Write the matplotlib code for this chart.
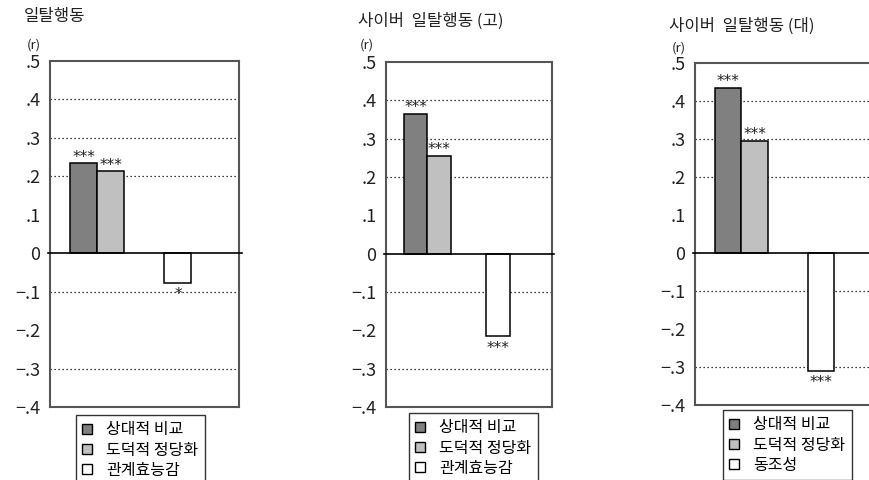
import matplotlib
matplotlib.use("Agg")
import matplotlib.pyplot as plt
from matplotlib.patches import Patch

plt.rcParams['font.family'] = ['Noto Sans CJK KR', 'DejaVu Sans']

# ---- data ----
titles = ['일탈행동', '사이버  일탈행동 (고)', '사이버  일탈행동 (대)']
labels_1 = ['상대적 비교', '도덕적 정당화', '관계효능감']
labels_2 = ['상대적 비교', '도덕적 정당화', '관계효능감']
labels_3 = ['상대적 비교', '도덕적 정당화', '동조성']
values_1 = [0.234, 0.213, -0.078]
values_2 = [0.365, 0.256, -0.216]
values_3 = [0.434, 0.295, -0.310]
sig_1 = ['***', '***', '*']
sig_2 = ['***', '***', '***']
sig_3 = ['***', '***', '***']
yticks = [0.5, 0.4, 0.3, 0.2, 0.1, 0.0, -0.1, -0.2, -0.3, -0.4]
ytick_labels = ['.5', '.4', '.3', '.2', '.1', '0', '−.1', '−.2', '−.3', '−.4']
grid_levels = [0.4, 0.3, 0.2, -0.1, -0.3]

bar_colors = ['#808080', '#c0c0c0', '#ffffff']
W, H = 870, 480

fig = plt.figure(figsize=(W / 100, H / 100), dpi=100)


def rect(x0, y0, x1, y1):
    """Pixel box (top-left origin) -> figure fraction rect."""
    return [x0 / W, 1 - y1 / H, (x1 - x0) / W, (y1 - y0) / H]


panels = [
    dict(box=(50, 61, 239, 407), labels=labels_1, values=values_1, sig=sig_1,
         title_xy=(24, 17), r_xy=(27, 45), legend_xy=(76, 415)),
    dict(box=(386, 62, 552, 407), labels=labels_2, values=values_2, sig=sig_2,
         title_xy=(358, 21), r_xy=(360, 45), legend_xy=(409, 413)),
    dict(box=(695, 63, 881, 405), labels=labels_3, values=values_3, sig=sig_3,
         title_xy=(669, 26), r_xy=(672, 48), legend_xy=(723, 410)),
]

positions = [0, 1, 3.5]

for title, p in zip(titles, panels):
    ax = fig.add_axes(rect(*p['box']))
    ax.set_xlim(-1.25, 5.77)
    ax.set_ylim(-0.4, 0.5)

    for lv in grid_levels:
        ax.axhline(lv, color='black', lw=0.9, ls=(0, (1, 2.2)), zorder=1)

    bars = ax.bar(positions, p['values'], width=1.0, color=bar_colors,
                  edgecolor='black', linewidth=1.1, zorder=3)
    ax.axhline(0, xmin=-0.012, xmax=1.015, color='black', lw=1.2,
               zorder=4, clip_on=False)

    for b, v, s in zip(bars, p['values'], p['sig']):
        cx = b.get_x() + b.get_width() / 2
        if v >= 0:
            ax.annotate(s, (cx, v), xytext=(0, -1), textcoords='offset points',
                        ha='center', va='bottom', fontsize=11,
                        family=['DejaVu Sans'], color='#222222')
        else:
            ax.annotate(s, (cx, v), xytext=(0, -3), textcoords='offset points',
                        ha='center', va='top', fontsize=11,
                        family=['DejaVu Sans'], color='#222222')

    ax.set_xticks([])
    ax.set_yticks(yticks)
    ax.set_yticklabels(ytick_labels, fontsize=13, color='#222222')
    ax.tick_params(axis='y', length=0, pad=7)
    for sp in ax.spines.values():
        sp.set_color('#555555')
        sp.set_linewidth(1.5)

    fig.text(p['title_xy'][0] / W, 1 - p['title_xy'][1] / H, title,
             fontsize=12, va='center', ha='left', color='#222222')
    fig.text(p['r_xy'][0] / W, 1 - p['r_xy'][1] / H, '(r)',
             fontsize=9.5, va='center', ha='left', color='#222222')

    handles = [Patch(facecolor=c, edgecolor='black', linewidth=1.0)
               for c in bar_colors]
    leg = ax.legend(handles, p['labels'], loc='upper left',
                    bbox_to_anchor=(p['legend_xy'][0] / W, 1 - p['legend_xy'][1] / H),
                    bbox_transform=fig.transFigure, borderaxespad=0,
                    fontsize=11.5, frameon=True, fancybox=False,
                    handlelength=0.6, handleheight=0.6, handletextpad=0.9,
                    labelspacing=0.2, borderpad=0.4)
    leg.get_frame().set_edgecolor('black')
    leg.get_frame().set_linewidth(1.0)

fig.savefig('out.png', dpi=100)
